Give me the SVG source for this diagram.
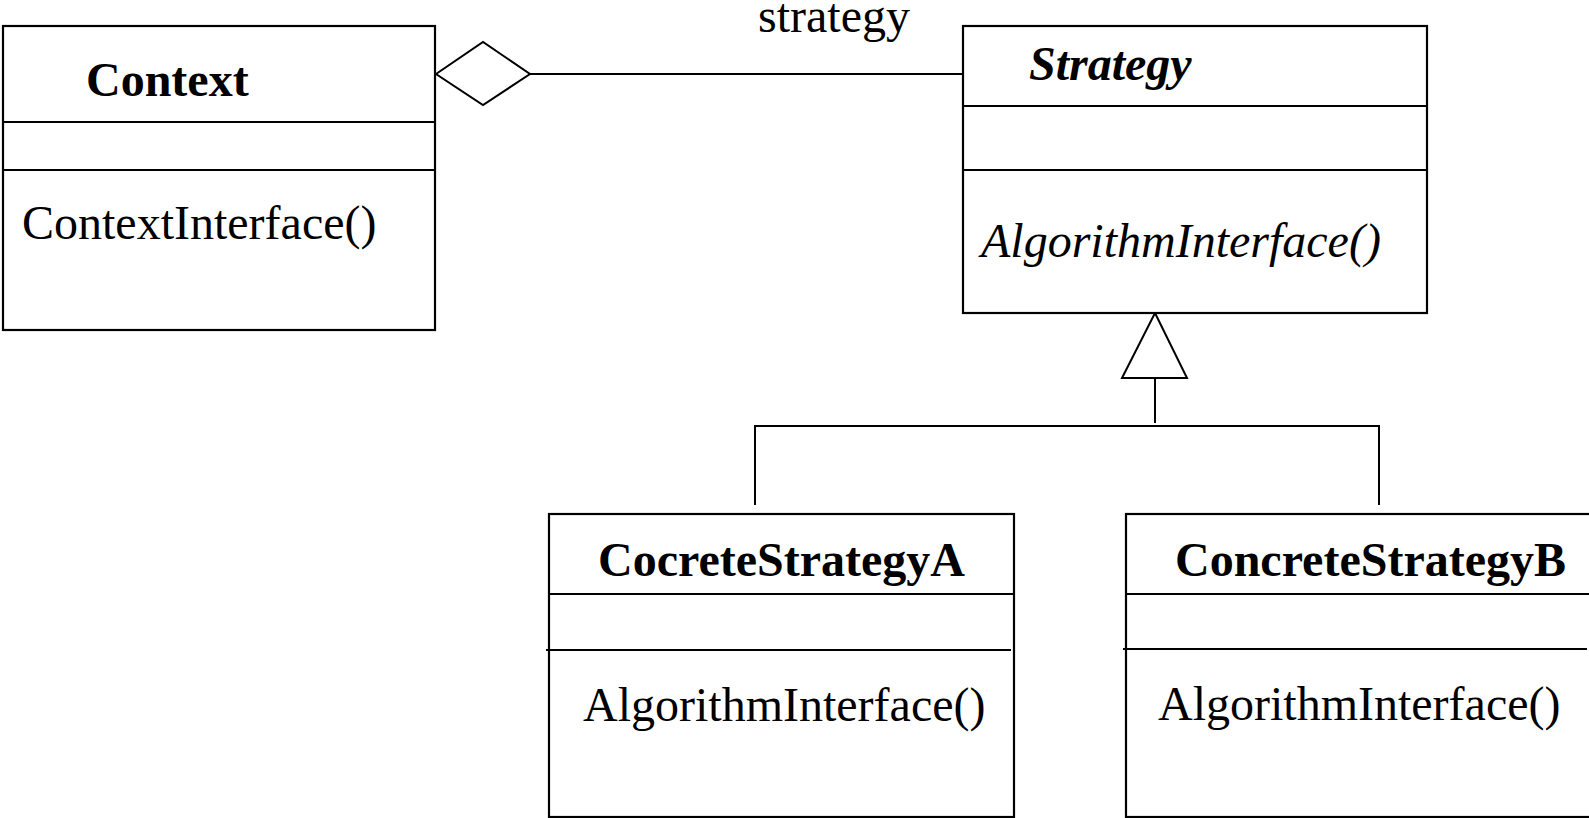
<svg xmlns="http://www.w3.org/2000/svg" width="1589" height="818" viewBox="0 0 1589 818">
  <style>
    .box { fill: #ffffff; stroke: #000000; stroke-width: 2.2; }
    .sep { stroke: #000000; stroke-width: 2.2; fill: none; }
    .edge { stroke: #000000; stroke-width: 2; fill: none; }
    .head { fill: #ffffff; stroke: #000000; stroke-width: 2; }
    text { font-family: "Liberation Serif", "Times New Roman", serif; font-size: 48px; fill: #000000; }
    .name { font-weight: bold; }
    .abstract { font-style: italic; }
  </style>

  <rect width="1589" height="818" fill="#ffffff"/>

  <!-- Connectors -->
  <g id="connectors">
    <!-- aggregation: Context holds a Strategy -->
    <line class="edge" x1="530" y1="74" x2="963" y2="74"/>
    <polygon class="head" points="436,74 483,42 530,74 483,105"/>
    <text x="758" y="32">strategy</text>

    <!-- generalization: concrete strategies extend Strategy -->
    <line class="edge" x1="1155" y1="378" x2="1155" y2="423"/>
    <polyline class="edge" points="755,505 755,426 1379,426 1379,505"/>
    <polygon class="head" points="1155,313 1187,378 1122,378"/>
  </g>

  <!-- Context -->
  <g id="context">
    <rect class="box" x="3" y="26" width="432" height="304"/>
    <line class="sep" x1="3" y1="122" x2="435" y2="122"/>
    <line class="sep" x1="3" y1="170" x2="435" y2="170"/>
    <text class="name" x="86" y="96">Context</text>
    <text x="22" y="239">ContextInterface()</text>
  </g>

  <!-- Strategy (abstract) -->
  <g id="strategy">
    <rect class="box" x="963" y="26" width="464" height="287"/>
    <line class="sep" x1="963" y1="106" x2="1427" y2="106"/>
    <line class="sep" x1="963" y1="170" x2="1427" y2="170"/>
    <text class="name abstract" x="1029" y="80">Strategy</text>
    <text class="abstract" x="981" y="257">AlgorithmInterface()</text>
  </g>

  <!-- CocreteStrategyA -->
  <g id="concrete-a">
    <rect class="box" x="549" y="514" width="465" height="303"/>
    <line class="sep" x1="549" y1="594" x2="1014" y2="594"/>
    <line class="sep" x1="546" y1="650" x2="1011" y2="650"/>
    <text class="name" x="598" y="576">CocreteStrategyA</text>
    <text x="583" y="721">AlgorithmInterface()</text>
  </g>

  <!-- ConcreteStrategyB -->
  <g id="concrete-b">
    <rect class="box" x="1126" y="514" width="480" height="303"/>
    <line class="sep" x1="1126" y1="594" x2="1589" y2="594"/>
    <line class="sep" x1="1123" y1="649" x2="1587" y2="649"/>
    <text class="name" x="1175" y="576">ConcreteStrategyB</text>
    <text x="1158" y="720">AlgorithmInterface()</text>
  </g>
</svg>
